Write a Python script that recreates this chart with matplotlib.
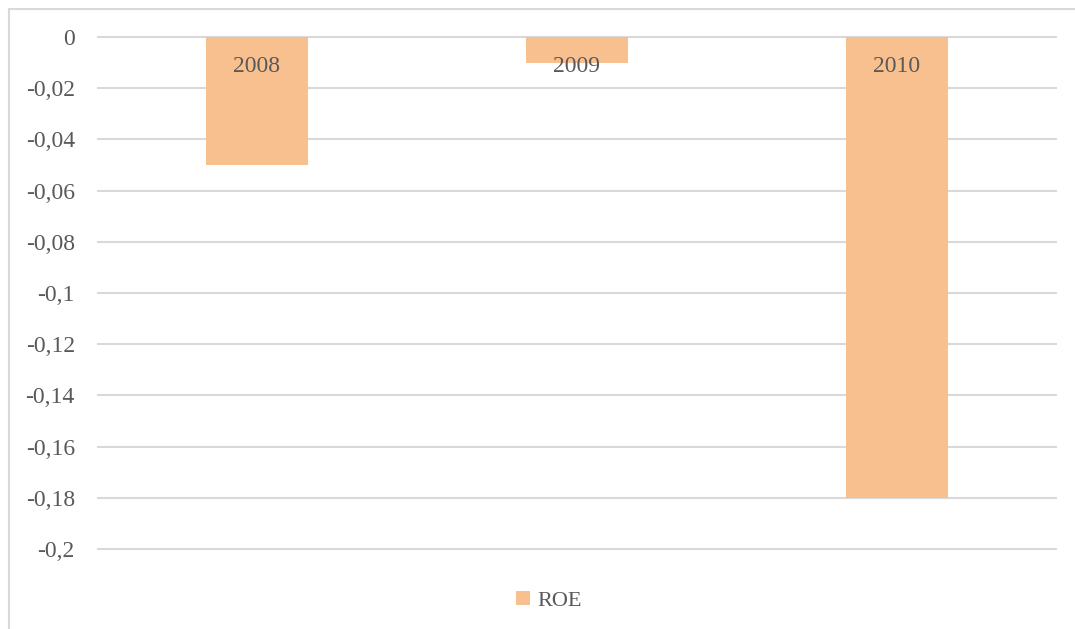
import matplotlib
matplotlib.use("Agg")
import matplotlib.pyplot as plt
from matplotlib.patches import Rectangle
from matplotlib.ticker import FixedLocator, FixedFormatter

# data
years = ["2008", "2009", "2010"]
roe = [-0.05, -0.01, -0.18]
series_name = "ROE"
ytick_values = [0, -0.02, -0.04, -0.06, -0.08, -0.1, -0.12, -0.14, -0.16, -0.18, -0.2]
ytick_labels = ["0", "-0,02", "-0,04", "-0,06", "-0,08", "-0,1", "-0,12", "-0,14",
                "-0,16", "-0,18", "-0,2"]

bar_color = "#F9C08F"
grid_color = "#D9D9D9"
text_color = "#595959"

plt.rcParams["font.family"] = ["Liberation Serif", "DejaVu Serif"]

W, H = 1075, 629
fig = plt.figure(figsize=(W / 100, H / 100), dpi=100)

# plot area in pixels: x 97..1057, y(0)=37, y(-0.2)=549
pad = 0.001
scale = (549 - 37) / 0.2
top_px = 37 - pad * scale
bot_px = 549 + pad * scale
ax = fig.add_axes([97 / W, 1 - bot_px / H, (1057 - 97) / W, (bot_px - top_px) / H])

x = list(range(len(years)))
bars = ax.bar(x, roe, width=0.32, color=bar_color, label=series_name, zorder=2)

ax.set_xlim(-0.5, len(years) - 0.5)
ax.set_ylim(-0.2 - pad, 0 + pad)

ax.yaxis.set_major_locator(FixedLocator(ytick_values))
ax.yaxis.set_major_formatter(FixedFormatter(ytick_labels))
ax.set_xticks([])
ax.tick_params(axis="y", length=0, pad=16, labelsize=17, labelcolor=text_color)
ax.grid(axis="y", color=grid_color, linewidth=1.5)
ax.set_axisbelow(True)
for s in ax.spines.values():
    s.set_visible(False)

# category names as labels at the base of each bar
for xi, name in zip(x, years):
    ax.annotate(name, xy=(xi, 0), xytext=(0, -21), textcoords="offset points",
                ha="center", va="center", fontsize=17, color=text_color, zorder=3)

leg = fig.legend(handles=[bars], labels=[series_name], loc="center",
                 bbox_to_anchor=(549 / W, 1 - 601 / H), frameon=False,
                 handlelength=0.6, handleheight=0.6, handletextpad=0.35,
                 fontsize=16)
for t in leg.get_texts():
    t.set_color(text_color)

# chart border (only top and left edges are visible in the crop)
fig.add_artist(Rectangle((8.5 / W, -0.1), 1.2, 1.1 - 8.5 / H, transform=fig.transFigure,
                         fill=False, edgecolor=grid_color, linewidth=1.5))

fig.savefig("out.png", dpi=100)
